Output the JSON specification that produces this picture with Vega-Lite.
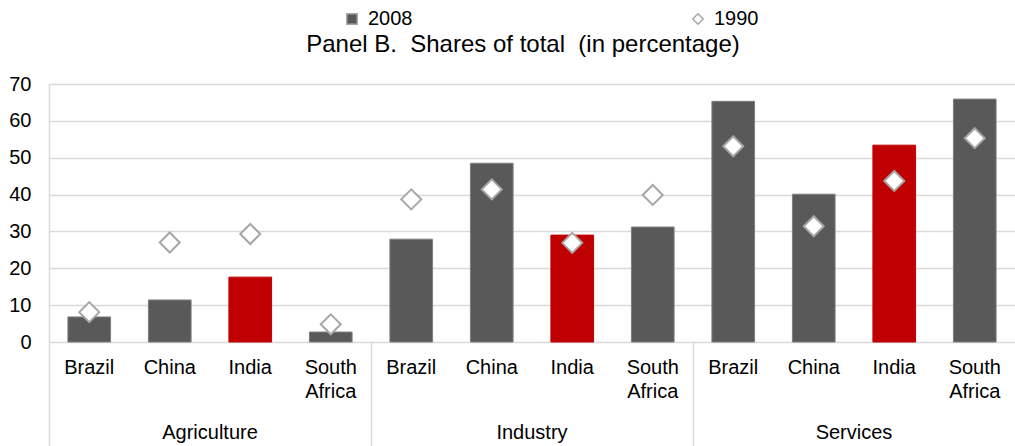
{
  "$schema": "https://vega.github.io/schema/vega-lite/v6.json",
  "width": 966,
  "height": 258,
  "autosize": {"type": "none"},
  "padding": {"left": 49, "top": 84, "right": 0, "bottom": 104},
  "background": "white",
  "config": {
    "font": "Liberation Sans",
    "view": {"stroke": null},
    "axis": {"labelFont": "Liberation Sans", "labelColor": "#000000"},
    "legend": {"labelFont": "Liberation Sans"}
  },
  "title": {
    "text": "Panel B.\u00a0 Shares of total\u00a0 (in percentage)",
    "fontSize": 24,
    "fontWeight": "normal",
    "font": "Liberation Sans",
    "color": "#000000",
    "frame": "group",
    "anchor": "middle",
    "offset": -48,
    "dx": -9
  },
  "data": {
    "values": [
      {"sector": "Agriculture", "country": "Brazil", "id": "Agriculture|Brazil", "year": "2008", "value": 6.8},
      {"sector": "Agriculture", "country": "China", "id": "Agriculture|China", "year": "2008", "value": 11.4},
      {"sector": "Agriculture", "country": "India", "id": "Agriculture|India", "year": "2008", "value": 17.6},
      {"sector": "Agriculture", "country": "South Africa", "id": "Agriculture|South Africa", "year": "2008", "value": 2.7},
      {"sector": "Industry", "country": "Brazil", "id": "Industry|Brazil", "year": "2008", "value": 27.9},
      {"sector": "Industry", "country": "China", "id": "Industry|China", "year": "2008", "value": 48.5},
      {"sector": "Industry", "country": "India", "id": "Industry|India", "year": "2008", "value": 29.0},
      {"sector": "Industry", "country": "South Africa", "id": "Industry|South Africa", "year": "2008", "value": 31.2},
      {"sector": "Services", "country": "Brazil", "id": "Services|Brazil", "year": "2008", "value": 65.3},
      {"sector": "Services", "country": "China", "id": "Services|China", "year": "2008", "value": 40.1},
      {"sector": "Services", "country": "India", "id": "Services|India", "year": "2008", "value": 53.4},
      {"sector": "Services", "country": "South Africa", "id": "Services|South Africa", "year": "2008", "value": 65.9},
      {"sector": "Agriculture", "country": "Brazil", "id": "Agriculture|Brazil", "year": "1990", "value": 8.1},
      {"sector": "Agriculture", "country": "China", "id": "Agriculture|China", "year": "1990", "value": 27.0},
      {"sector": "Agriculture", "country": "India", "id": "Agriculture|India", "year": "1990", "value": 29.3},
      {"sector": "Agriculture", "country": "South Africa", "id": "Agriculture|South Africa", "year": "1990", "value": 4.8},
      {"sector": "Industry", "country": "Brazil", "id": "Industry|Brazil", "year": "1990", "value": 38.7},
      {"sector": "Industry", "country": "China", "id": "Industry|China", "year": "1990", "value": 41.4},
      {"sector": "Industry", "country": "India", "id": "Industry|India", "year": "1990", "value": 26.9},
      {"sector": "Industry", "country": "South Africa", "id": "Industry|South Africa", "year": "1990", "value": 39.9},
      {"sector": "Services", "country": "Brazil", "id": "Services|Brazil", "year": "1990", "value": 53.1},
      {"sector": "Services", "country": "China", "id": "Services|China", "year": "1990", "value": 31.4},
      {"sector": "Services", "country": "India", "id": "Services|India", "year": "1990", "value": 43.7},
      {"sector": "Services", "country": "South Africa", "id": "Services|South Africa", "year": "1990", "value": 55.3}
    ]
  },
  "layer": [
    {
      "encoding": {
        "x": {
          "field": "id",
          "type": "nominal",
          "sort": null,
          "scale": {"paddingInner": 0.47, "paddingOuter": 0.235},
          "axis": {
            "title": null,
            "orient": "bottom",
            "domain": false,
            "ticks": false,
            "grid": false,
            "labelAngle": 0,
            "labelFontSize": 20,
            "labelPadding": 15,
            "labelLineHeight": 24,
            "labelBaseline": "top",
            "labelOverlap": false,
            "labelExpr": "split(split(datum.value, '|')[1], ' ')"
          }
        },
        "y": {
          "field": "value",
          "type": "quantitative",
          "scale": {"domain": [0, 70], "nice": false},
          "axis": {
            "title": null,
            "values": [0, 10, 20, 30, 40, 50, 60, 70],
            "ticks": false,
            "domain": true,
            "domainColor": "#d9d9d9",
            "domainWidth": 1.5,
            "gridColor": "#d9d9d9",
            "gridWidth": 1.5,
            "labelFontSize": 20,
            "labelPadding": 18,
            "labelOverlap": false
          }
        }
      },
      "layer": [
        {
          "transform": [{"filter": "datum.year === '2008'"}],
          "mark": {"type": "bar", "strokeWidth": 1},
          "encoding": {
            "fill": {
              "condition": {"test": "datum.country === 'India'", "value": "#c00000"},
              "field": "year",
              "type": "nominal",
              "scale": {"domain": ["2008", "1990"], "range": ["#595959", "#ffffff"]},
              "legend": {
                "title": null,
                "orient": "none",
                "legendX": 293,
                "legendY": -75,
                "direction": "horizontal",
                "columnPadding": 275,
                "labelFontSize": 20,
                "labelOffset": 6,
                "symbolSize": 110,
                "symbolStrokeColor": "#a6a6a6",
                "symbolStrokeWidth": 1.5
              }
            },
            "stroke": {
              "condition": {"test": "datum.country === 'India'", "value": "#c00000"},
              "value": "#7f7f7f"
            }
          }
        },
        {
          "transform": [{"filter": "datum.year === '1990'"}],
          "mark": {"type": "point", "filled": true, "size": 400, "stroke": "#a6a6a6", "strokeWidth": 2, "opacity": 1},
          "encoding": {
            "fill": {
              "field": "year",
              "type": "nominal",
              "scale": {"domain": ["2008", "1990"], "range": ["#595959", "#ffffff"]},
              "legend": {
                "title": null,
                "orient": "none",
                "legendX": 293,
                "legendY": -75,
                "direction": "horizontal",
                "columnPadding": 275,
                "labelFontSize": 20,
                "labelOffset": 6,
                "symbolSize": 110,
                "symbolStrokeColor": "#a6a6a6",
                "symbolStrokeWidth": 1.5
              }
            },
            "shape": {
              "field": "year",
              "type": "nominal",
              "scale": {"domain": ["2008", "1990"], "range": ["square", "diamond"]},
              "legend": {
                "title": null,
                "orient": "none",
                "legendX": 293,
                "legendY": -75,
                "direction": "horizontal",
                "columnPadding": 275,
                "labelFontSize": 20,
                "labelOffset": 6,
                "symbolSize": 110,
                "symbolStrokeColor": "#a6a6a6",
                "symbolStrokeWidth": 1.5
              }
            }
          }
        }
      ]
    },
    {
      "mark": {"type": "point", "opacity": 0},
      "encoding": {
        "x": {
          "field": "sector",
          "type": "nominal",
          "sort": null,
          "scale": {"type": "band", "paddingInner": 0, "paddingOuter": 0},
          "axis": {
            "title": null,
            "orient": "bottom",
            "offset": 0,
            "domain": false,
            "grid": false,
            "ticks": true,
            "bandPosition": 0,
            "tickSize": 104,
            "tickColor": "#d9d9d9",
            "tickWidth": 1.5,
            "labelAngle": 0,
            "labelFontSize": 20,
            "labelPadding": -24,
            "labelBaseline": "top"
          }
        }
      }
    }
  ],
  "resolve": {"scale": {"x": "independent"}, "axis": {"x": "independent"}}
}
